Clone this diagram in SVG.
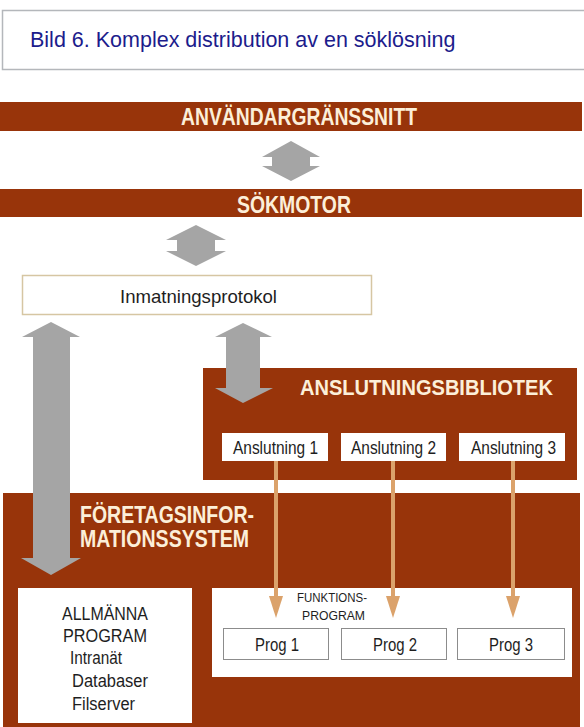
<svg xmlns="http://www.w3.org/2000/svg" width="584" height="727" viewBox="0 0 584 727">
  <defs>
    <style>
      .brown { fill: #98340a; }
      .band { font-family: "Liberation Sans Narrow", "Arial Narrow", "Liberation Sans", Arial, sans-serif; font-weight: bold; fill: #fcefd9; }
      .lbl { font-family: "Liberation Sans Narrow", "Arial Narrow", "Liberation Sans", Arial, sans-serif; fill: #1e1e1e; }
      .wbox { fill: #ffffff; }
      .gray { fill: #a5a5a5; }
      .feed { stroke: #dba26b; stroke-width: 4; fill: none; }
      .feedhead { fill: #dba26b; }
    </style>
  </defs>

  <rect width="584" height="727" fill="#ffffff"/>

  <!-- caption -->
  <g id="caption">
    <rect x="2.5" y="10.5" width="590" height="59" fill="#ffffff" stroke="#b4b7bb" stroke-width="1.5"/>
    <text x="30" y="47" font-family="Liberation Sans, Arial, sans-serif" font-size="21.5" fill="#1c1c8c">Bild 6. Komplex distribution av en söklösning</text>
  </g>

  <!-- top layers -->
  <g id="anvandargranssnitt">
    <rect class="brown" x="0" y="102" width="582" height="29"/>
    <text class="band" x="181" y="125" font-size="23" textLength="236" lengthAdjust="spacingAndGlyphs">ANVÄNDARGRÄNSSNITT</text>
  </g>

  <g id="sokmotor">
    <rect class="brown" x="0" y="189" width="582" height="28"/>
    <text class="band" x="237" y="213" font-size="23" textLength="114" lengthAdjust="spacingAndGlyphs">SÖKMOTOR</text>
  </g>

  <g id="inmatningsprotokol">
    <rect x="22.5" y="275.5" width="349" height="39" fill="#ffffff" stroke="#d6c6a3" stroke-width="1.5"/>
    <text class="lbl" x="120" y="303" font-size="18.5" textLength="157" lengthAdjust="spacingAndGlyphs">Inmatningsprotokol</text>
  </g>

  <!-- connector library -->
  <g id="anslutningsbibliotek">
    <rect class="brown" x="203" y="368" width="374" height="112"/>
    <text class="band" x="300" y="395" font-size="22" textLength="253" lengthAdjust="spacingAndGlyphs">ANSLUTNINGSBIBLIOTEK</text>
  </g>

  <g id="anslutning1">
    <rect class="wbox" x="222" y="433" width="106" height="28"/>
    <text class="lbl" x="233" y="453.5" font-size="17.5" textLength="85" lengthAdjust="spacingAndGlyphs">Anslutning 1</text>
  </g>
  <g id="anslutning2">
    <rect class="wbox" x="341" y="433" width="105" height="28"/>
    <text class="lbl" x="351" y="453.5" font-size="17.5" textLength="85" lengthAdjust="spacingAndGlyphs">Anslutning 2</text>
  </g>
  <g id="anslutning3">
    <rect class="wbox" x="459" y="433" width="106" height="28"/>
    <text class="lbl" x="471" y="453.5" font-size="17.5" textLength="85" lengthAdjust="spacingAndGlyphs">Anslutning 3</text>
  </g>

  <!-- enterprise information system -->
  <g id="foretagsinformationssystem">
    <rect class="brown" x="3" y="493" width="577" height="234"/>
    <text class="band" x="80" y="523" font-size="23" textLength="174" lengthAdjust="spacingAndGlyphs">FÖRETAGSINFOR-</text>
    <text class="band" x="80" y="547" font-size="23" textLength="169" lengthAdjust="spacingAndGlyphs">MATIONSSYSTEM</text>
  </g>

  <g id="allmanna-program">
    <rect class="wbox" x="18" y="588" width="174" height="135"/>
    <text class="lbl" x="62" y="620" font-size="18.5" textLength="86" lengthAdjust="spacingAndGlyphs">ALLMÄNNA</text>
    <text class="lbl" x="63" y="642" font-size="18.5" textLength="84" lengthAdjust="spacingAndGlyphs">PROGRAM</text>
    <text class="lbl" x="70" y="664" font-size="17.5" textLength="52" lengthAdjust="spacingAndGlyphs">Intranät</text>
    <text class="lbl" x="72" y="687" font-size="17.5" textLength="76" lengthAdjust="spacingAndGlyphs">Databaser</text>
    <text class="lbl" x="72" y="710" font-size="17.5" textLength="63" lengthAdjust="spacingAndGlyphs">Filserver</text>
  </g>

  <g id="funktionsprogram">
    <rect class="wbox" x="212" y="588" width="360" height="89"/>
    <text class="lbl" x="297" y="602" font-size="13" textLength="70" lengthAdjust="spacingAndGlyphs">FUNKTIONS-</text>
    <text class="lbl" x="302" y="620" font-size="13" textLength="63" lengthAdjust="spacingAndGlyphs">PROGRAM</text>
  </g>

  <g id="prog1">
    <rect x="223.5" y="628.5" width="105" height="31" fill="#ffffff" stroke="#8c8c8c" stroke-width="1"/>
    <text class="lbl" x="255" y="651" font-size="18.5" textLength="44" lengthAdjust="spacingAndGlyphs">Prog 1</text>
  </g>
  <g id="prog2">
    <rect x="341.5" y="628.5" width="105" height="31" fill="#ffffff" stroke="#8c8c8c" stroke-width="1"/>
    <text class="lbl" x="373" y="651" font-size="18.5" textLength="44" lengthAdjust="spacingAndGlyphs">Prog 2</text>
  </g>
  <g id="prog3">
    <rect x="457.5" y="628.5" width="107" height="31" fill="#ffffff" stroke="#8c8c8c" stroke-width="1"/>
    <text class="lbl" x="489" y="651" font-size="18.5" textLength="44" lengthAdjust="spacingAndGlyphs">Prog 3</text>
  </g>

  <!-- connectors -->
  <g id="connectors">
    <!-- two-way block arrows -->
    <path class="gray" d="M291,141 L320,157 L310,157 L310,166 L320,166 L291,181 L262,166 L272,166 L272,157 L262,157 Z"/>
    <path class="gray" d="M196,225 L226,240 L215,240 L215,251 L226,251 L196,266 L166,251 L177,251 L177,240 L166,240 Z"/>
    <path class="gray" d="M51,322 L80,337 L70,337 L70,558 L81,558 L51,575 L21,558 L33,558 L33,337 L22,337 Z"/>
    <path class="gray" d="M243,323 L272,337 L260,337 L260,388 L273,388 L243,403 L215,388 L226,388 L226,337 L215,337 Z"/>

    <!-- connector feeds to function programs -->
    <line class="feed" x1="276" y1="461" x2="276" y2="600"/>
    <path class="feedhead" d="M269,596 L283,596 L276,618 Z"/>
    <line class="feed" x1="393" y1="461" x2="393" y2="600"/>
    <path class="feedhead" d="M386,596 L400,596 L393,618 Z"/>
    <line class="feed" x1="513" y1="461" x2="513" y2="600"/>
    <path class="feedhead" d="M506,596 L520,596 L513,618 Z"/>
  </g>
</svg>
